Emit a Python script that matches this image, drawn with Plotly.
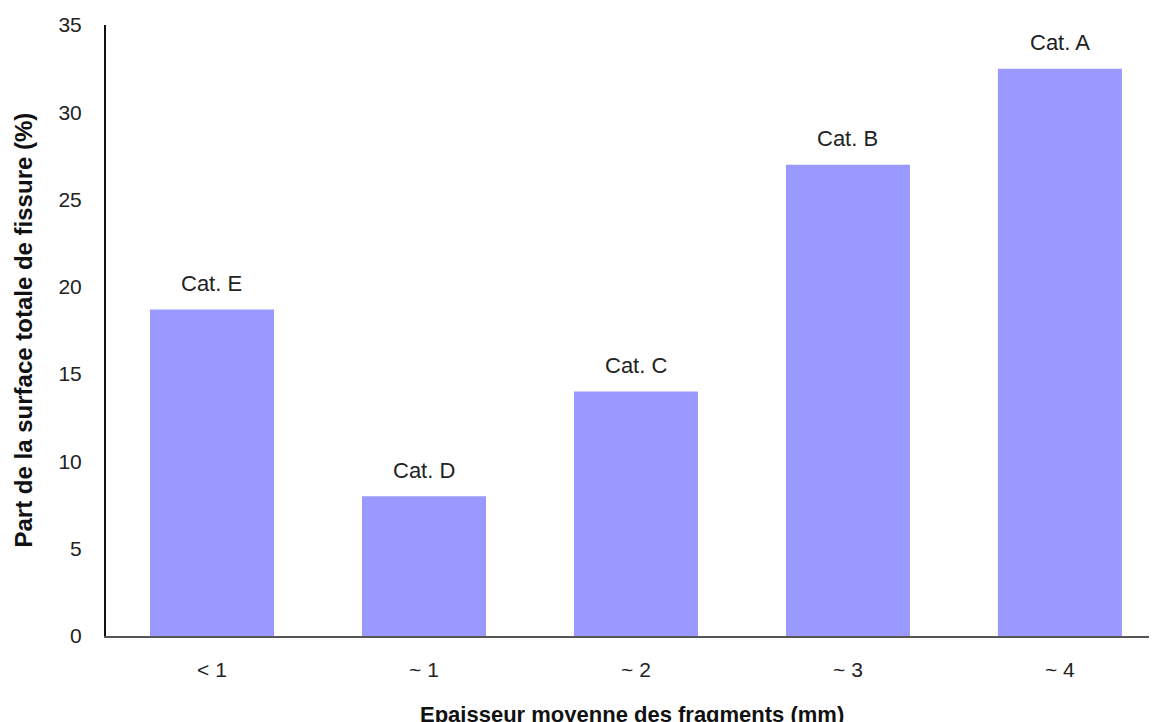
import plotly.graph_objects as go

# Data
categories = ['< 1', '~ 1', '~ 2', '~ 3', '~ 4']
values = [18.7, 8.0, 14.0, 27.0, 32.5]
cat_labels = ['Cat. E', 'Cat. D', 'Cat. C', 'Cat. B', 'Cat. A']
y_ticks = [0, 5, 10, 15, 20, 25, 30, 35]

FONT = 'Liberation Sans, Arial, sans-serif'
BAR_COLOR = '#9999FF'
TEXT_COLOR = '#222222'

fig = go.Figure()
fig.add_trace(go.Bar(
    x=categories,
    y=values,
    marker=dict(color=BAR_COLOR, line=dict(width=0)),
    hoverinfo='x+y',
))

# category labels above bars
for cat, val, lab in zip(categories, values, cat_labels):
    fig.add_annotation(x=cat, y=val, text=lab, showarrow=False,
                       yshift=26, font=dict(family=FONT, size=22, color=TEXT_COLOR))

# page body has an 8px margin, so the figure is sized/offset to compensate
fig.update_layout(
    width=1149,
    height=714,
    margin=dict(l=98, r=0, t=17, b=86),
    paper_bgcolor='white',
    plot_bgcolor='white',
    bargap=0.415,
    showlegend=False,
    font=dict(family=FONT, size=21, color=TEXT_COLOR),
    xaxis=dict(
        type='category',
        range=[-0.5, 4.458],
        automargin=False,
        showline=True, linecolor='#555555', linewidth=2,
        showgrid=False, ticks='', ticklabelstandoff=14,
        tickfont=dict(family=FONT, size=21, color=TEXT_COLOR),
    ),
    yaxis=dict(
        range=[0, 35],
        tickvals=y_ticks,
        automargin=False,
        showline=True, linecolor='#111111', linewidth=2,
        showgrid=False, zeroline=False, ticks='', ticklabelstandoff=18,
        tickfont=dict(family=FONT, size=21, color=TEXT_COLOR),
    ),
)

# axis titles
fig.add_annotation(x=0.5, y=0, xref='paper', yref='paper', yshift=-78,
                   xanchor='center', yanchor='middle',
                   text='<b>Epaisseur moyenne des fragments (mm)</b>', showarrow=False,
                   font=dict(family=FONT, size=22, color='#111111'))
fig.add_annotation(x=0, y=0.5, xref='paper', yref='paper', xshift=-83,
                   text='<b>Part de la surface totale de fissure (%)</b>', showarrow=False,
                   textangle=-90, xanchor='center', yanchor='middle',
                   font=dict(family=FONT, size=24, color='#111111'))

fig.write_html("out.html")
